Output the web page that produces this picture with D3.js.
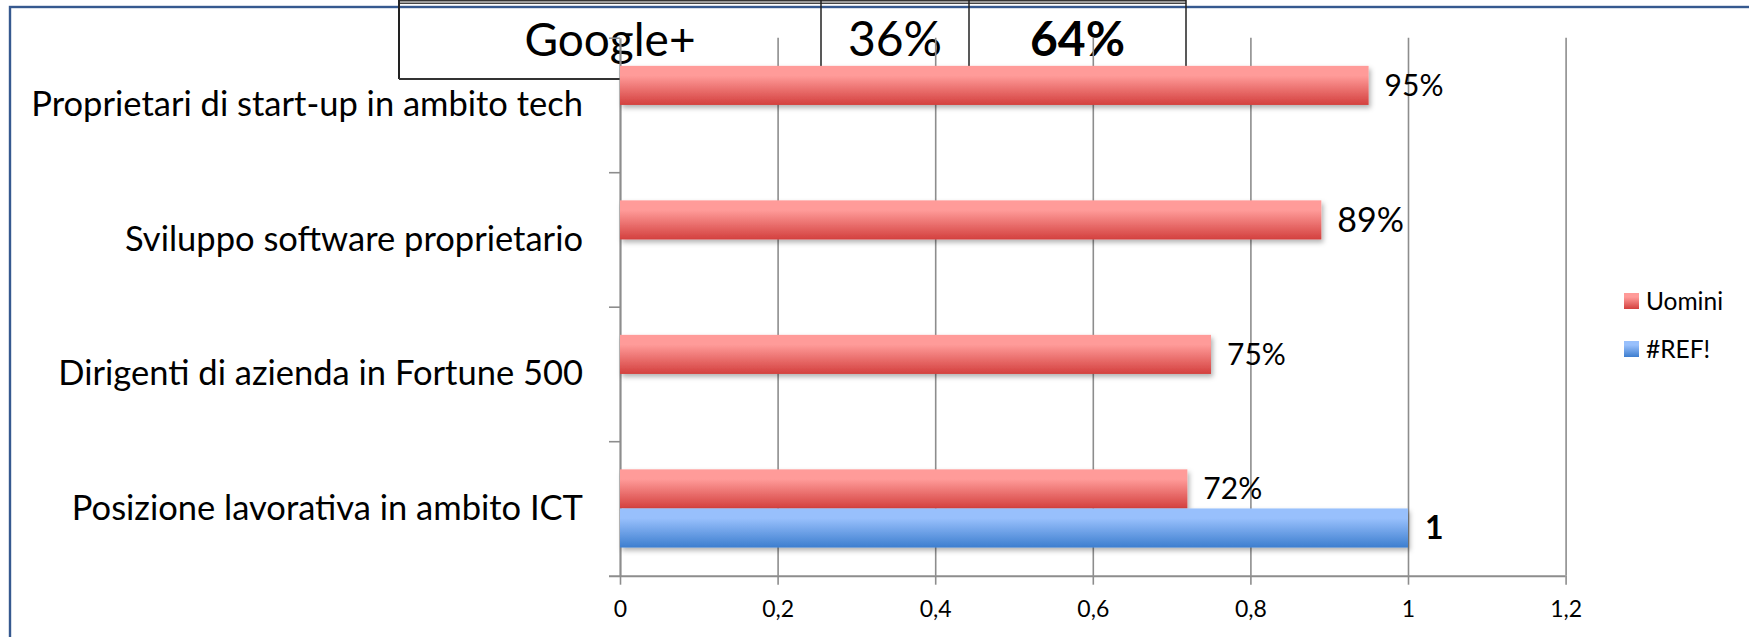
<!DOCTYPE html>
<html>
<head>
<meta charset="utf-8">
<script src="https://cdn.jsdelivr.net/npm/d3@7/dist/d3.min.js"></script>
<style>
  html, body { margin: 0; padding: 0; background: #fff; }
  svg { display: block; }
  text { font-family: Lato, "Noto Sans", sans-serif; fill: #000; }
</style>
</head>
<body>
<svg id="chart" width="1749" height="637"></svg>
<script>
// Categories, top to bottom
const categories = [
  "Proprietari di start-up in ambito tech",
  "Sviluppo software proprietario",
  "Dirigenti di azienda in Fortune 500",
  "Posizione lavorativa in ambito ICT"
];
// Series values
const uomini = [0.95, 0.89, 0.75, 0.72];
const refSeries = [null, null, null, 1];
const seriesNames = ["Uomini", "#REF!"];
// Axis ticks
const xTicks = [0, 0.2, 0.4, 0.6, 0.8, 1, 1.2];
// Table row sitting above the plot
const tableRow = ["Google+", "36%", "64%"];

// Per-label font sizes for the red series value labels
const uominiLabelSize = [30, 34, 30, 30];

const W = 1749, H = 637;
const plot = { left: 620, right: 1565.6, top: 37.7, bottom: 575.7 };

const svg = d3.select("#chart");
const defs = svg.append("defs");

function vGradient(id, top, bottom) {
  const g = defs.append("linearGradient").attr("id", id)
    .attr("x1", 0).attr("y1", 0).attr("x2", 0).attr("y2", 1);
  g.append("stop").attr("offset", "0%").attr("stop-color", top);
  g.append("stop").attr("offset", "25%").attr("stop-color", top);
  g.append("stop").attr("offset", "100%").attr("stop-color", bottom);
}
vGradient("gradRed", "#ff9b99", "#d3403e");
vGradient("gradBlue", "#98c0fc", "#3d7ecf");

const shadow = defs.append("filter").attr("id", "barShadow")
  .attr("x", "-5%").attr("y", "-30%").attr("width", "110%").attr("height", "170%");
shadow.append("feDropShadow").attr("dx", 2).attr("dy", 3)
  .attr("stdDeviation", 2.5).attr("flood-color", "#000").attr("flood-opacity", 0.3);

// ---- outer frame ----
svg.append("rect")
  .attr("x", 10).attr("y", 7).attr("width", W + 20).attr("height", H + 20)
  .attr("fill", "none").attr("stroke", "#36598f").attr("stroke-width", 2.4);

// ---- table row behind the chart ----
const tableCols = [399, 821, 969, 1186];
const tableTop = 0, tableBottom = 79;
const tbl = svg.append("g");
tbl.append("line").attr("x1", tableCols[0]).attr("x2", tableCols[3])
  .attr("y1", 0.8).attr("y2", 0.8).attr("stroke", "#333").attr("stroke-width", 1.6);
tbl.append("line").attr("x1", tableCols[0]).attr("x2", tableCols[3])
  .attr("y1", 3.2).attr("y2", 3.2).attr("stroke", "#444").attr("stroke-width", 1.4);
tbl.selectAll("line.v").data(tableCols).join("line").attr("class", "v")
  .attr("x1", d => d).attr("x2", d => d)
  .attr("y1", tableTop).attr("y2", tableBottom)
  .attr("stroke", "#222").attr("stroke-width", (d, i) => i === 0 ? 2 : 1.5);
tbl.append("line").attr("x1", tableCols[0]).attr("x2", tableCols[3])
  .attr("y1", tableBottom).attr("y2", tableBottom)
  .attr("stroke", "#333").attr("stroke-width", 2);
tbl.selectAll("text").data(tableRow).join("text")
  .attr("x", (d, i) => (tableCols[i] + tableCols[i + 1]) / 2)
  .attr("y", 56)
  .attr("text-anchor", "middle")
  .attr("font-size", (d, i) => i === 0 ? 46 : 48)
  .attr("font-weight", (d, i) => i === 2 ? "bold" : "normal")
  .text(d => d);

// ---- scales ----
const x = d3.scaleLinear().domain([0, 1.2]).range([plot.left, plot.right]);
const y = d3.scaleBand().domain(categories).range([plot.top, plot.bottom]);
const ySub = d3.scaleBand().domain(seriesNames).range([0, y.bandwidth()])
  .paddingInner(0).paddingOuter(0.72);
const yEdge = d3.scaleLinear().domain([0, categories.length]).range([plot.top, plot.bottom]);

const gridColor = "#8d8d8d";

// vertical gridlines
const grid = svg.append("g")
  .attr("transform", `translate(0,${plot.bottom})`)
  .call(d3.axisBottom(x).tickValues(xTicks.slice(1)).tickSize(-(plot.bottom - plot.top)).tickFormat(""));
grid.select(".domain").remove();
grid.selectAll("line").attr("stroke", gridColor).attr("stroke-width", 1.6);

// x axis
const fmt = d => String(d).replace(".", ",");
const xAxis = svg.append("g")
  .attr("transform", `translate(0,${plot.bottom})`)
  .call(d3.axisBottom(x).tickValues(xTicks).tickSize(9).tickPadding(16).tickSizeOuter(0).tickFormat(fmt));
xAxis.select(".domain").attr("stroke", gridColor).attr("stroke-width", 2)
  .attr("d", `M${plot.left - 11},0.5H${plot.right}`);
xAxis.selectAll("line").attr("stroke", gridColor).attr("stroke-width", 1.6);
xAxis.selectAll("text").attr("font-size", 23).attr("fill", "#000")
  .attr("font-family", "Lato, 'Noto Sans', sans-serif");

// y axis with ticks at category boundaries
const yAxis = svg.append("g")
  .attr("transform", `translate(${plot.left},0)`)
  .call(d3.axisLeft(yEdge).tickValues(d3.range(categories.length)).tickSize(11).tickSizeOuter(0).tickFormat(""));
yAxis.select(".domain").attr("stroke", gridColor).attr("stroke-width", 2.2);
yAxis.selectAll("line").attr("stroke", gridColor).attr("stroke-width", 1.6);

// category labels
svg.append("g").selectAll("text").data(categories).join("text")
  .attr("x", 583)
  .attr("y", d => y(d) + y.bandwidth() / 2)
  .attr("dy", "0.33em")
  .attr("text-anchor", "end")
  .attr("font-size", 34.5)
  .text(d => d);

// ---- bars ----
const bars = svg.append("g");
const redData = categories.map((c, i) => ({ c, v: uomini[i], i }));
const blueData = categories.map((c, i) => ({ c, v: refSeries[i], i })).filter(d => d.v != null);

bars.selectAll("rect.red").data(redData).join("rect").attr("class", "red")
  .attr("x", x(0))
  .attr("y", d => y(d.c) + ySub("Uomini"))
  .attr("width", d => x(d.v) - x(0))
  .attr("height", ySub.bandwidth())
  .attr("fill", "url(#gradRed)")
  .attr("filter", "url(#barShadow)");

bars.selectAll("rect.blue").data(blueData).join("rect").attr("class", "blue")
  .attr("x", x(0))
  .attr("y", d => y(d.c) + ySub("#REF!"))
  .attr("width", d => x(d.v) - x(0))
  .attr("height", ySub.bandwidth())
  .attr("fill", "url(#gradBlue)")
  .attr("filter", "url(#barShadow)");

// value labels
svg.append("g").selectAll("text").data(redData).join("text")
  .attr("x", d => x(d.v) + 16)
  .attr("y", d => y(d.c) + ySub("Uomini") + ySub.bandwidth() / 2)
  .attr("dy", "0.35em")
  .attr("font-size", d => uominiLabelSize[d.i])
  .text(d => Math.round(d.v * 100) + "%");

svg.append("g").selectAll("text").data(blueData).join("text")
  .attr("x", d => x(d.v) + 17)
  .attr("y", d => y(d.c) + ySub("#REF!") + ySub.bandwidth() / 2)
  .attr("dy", "0.35em")
  .attr("font-size", 32)
  .attr("font-weight", "bold")
  .text(d => d.v);

// ---- legend ----
const legend = svg.append("g").attr("transform", "translate(1624,293)");
const legendFill = ["url(#gradRed)", "url(#gradBlue)"];
const li = legend.selectAll("g").data(seriesNames).join("g")
  .attr("transform", (d, i) => `translate(0,${i * 48})`);
li.append("rect").attr("width", 15).attr("height", 16).attr("fill", (d, i) => legendFill[i]);
li.append("text").attr("x", 22).attr("y", 8).attr("dy", "0.36em")
  .attr("font-size", 24.5).text(d => d);
</script>
</body>
</html>
